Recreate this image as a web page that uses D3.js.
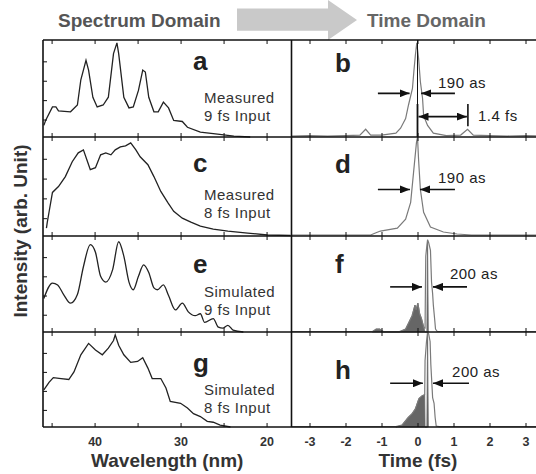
<!DOCTYPE html>
<html>
<head>
<meta charset="utf-8">
<script src="https://cdn.jsdelivr.net/npm/d3@7"></script>
<style>
  html, body { margin: 0; padding: 0; background: #fff; }
  svg { display: block; font-family: "Liberation Sans", Arial, sans-serif; }
</style>
</head>
<body>
<div id="chart"></div>
<script>
// Spectrum (wavelength nm, intensity) and time domain (fs, intensity) traces

const specA = [[45.9,0.12],[45.7,0.17],[44.9,0.31],[44.5,0.31],[44.2,0.27],[42.8,0.26],[42.0,0.33],[41.6,0.59],[41.0,0.79],[40.7,0.69],[40.2,0.41],[39.7,0.31],[39.0,0.33],[38.4,0.41],[37.8,0.86],[37.4,0.97],[37.2,0.86],[36.6,0.41],[36.0,0.30],[35.5,0.31],[34.9,0.48],[34.4,0.69],[34.1,0.67],[33.7,0.41],[33.1,0.26],[32.6,0.26],[32.0,0.36],[31.4,0.30],[30.8,0.17],[29.8,0.16],[29.2,0.10],[27.7,0.05],[25.7,0.03],[23.8,0.01],[21.9,0.0]];
const specC = [[45.6,0.08],[45.5,0.14],[45.3,0.24],[44.9,0.44],[44.2,0.50],[43.4,0.60],[42.6,0.75],[41.9,0.84],[41.3,0.87],[40.9,0.77],[40.5,0.67],[39.9,0.69],[39.3,0.82],[38.7,0.84],[38.1,0.82],[37.6,0.87],[37.0,0.90],[36.4,0.91],[35.8,0.94],[35.2,0.87],[34.7,0.80],[33.8,0.72],[33.1,0.60],[32.3,0.45],[31.5,0.34],[30.8,0.25],[29.8,0.18],[28.8,0.14],[27.7,0.10],[26.2,0.07],[24.5,0.05],[22.2,0.03],[19.9,0.01],[17.2,0.005]];
const specE = [[45.9,0.35],[44.9,0.51],[44.3,0.49],[43.6,0.39],[42.8,0.30],[42.0,0.39],[41.3,0.68],[40.5,0.91],[39.9,0.83],[39.3,0.58],[38.7,0.52],[37.9,0.65],[37.2,0.94],[36.6,0.79],[36.0,0.52],[35.5,0.44],[34.9,0.58],[34.3,0.70],[33.7,0.62],[33.1,0.46],[32.7,0.44],[32.0,0.49],[31.4,0.38],[30.6,0.23],[29.8,0.30],[29.1,0.21],[28.3,0.17],[27.7,0.19],[27.2,0.10],[26.2,0.14],[25.6,0.05],[25.1,0.04],[24.5,0.07],[23.9,0.02],[22.7,0.0]];
const specG = [[45.9,0.39],[45.3,0.47],[44.8,0.52],[43.9,0.51],[43.0,0.50],[42.4,0.58],[41.6,0.76],[40.7,0.88],[39.9,0.81],[39.1,0.76],[38.4,0.83],[37.8,0.91],[37.6,0.97],[37.2,0.86],[36.6,0.76],[35.8,0.68],[35.0,0.69],[34.4,0.73],[33.8,0.62],[33.3,0.51],[32.3,0.51],[31.7,0.41],[31.2,0.27],[30.0,0.25],[29.2,0.20],[28.5,0.14],[27.7,0.11],[26.9,0.06],[26.2,0.05],[25.4,0.02],[24.2,0.0]];

const pulseB = [[-3.5,0.01],[-3.0,0.015],[-2.5,0.01],[-2.0,0.015],[-1.6,0.02],[-1.44,0.08],[-1.3,0.02],[-1.0,0.02],[-0.6,0.04],[-0.47,0.09],[-0.33,0.19],[-0.25,0.33],[-0.14,0.5],[-0.1,0.68],[-0.06,0.84],[-0.02,0.97],[0.03,0.81],[0.08,0.57],[0.14,0.40],[0.17,0.22],[0.28,0.12],[0.44,0.04],[0.8,0.015],[1.2,0.02],[1.39,0.08],[1.55,0.02],[2.0,0.015],[2.5,0.01],[3.0,0.015],[3.5,0.01]];
const pulseD = [[-3.5,0.01],[-1.3,0.01],[-1.17,0.03],[-1.03,0.05],[-0.56,0.08],[-0.33,0.17],[-0.19,0.34],[-0.11,0.64],[-0.03,0.94],[0.0,1.0],[0.03,0.77],[0.08,0.47],[0.17,0.24],[0.36,0.09],[0.72,0.04],[1.1,0.02],[1.5,0.01],[3.5,0.01]];
const pulseF = [[-3.5,0.005],[-1.25,0.005],[-1.15,0.03],[-1.05,0.03],[-0.95,0.005],[-0.5,0.005],[-0.33,0.03],[-0.24,0.1],[-0.15,0.17],[-0.07,0.28],[-0.04,0.23],[0.01,0.3],[0.06,0.19],[0.11,0.14],[0.18,0.04],[0.21,0.04],[0.22,0.45],[0.23,0.79],[0.26,0.9],[0.28,0.96],[0.31,0.93],[0.36,0.85],[0.39,0.52],[0.42,0.4],[0.44,0.28],[0.48,0.12],[0.5,0.03],[0.55,0.005],[3.5,0.005]];
const shadeF = [[-1.25,0],[-1.15,0.03],[-1.05,0.03],[-0.95,0],[-0.5,0],[-0.33,0.03],[-0.24,0.1],[-0.15,0.17],[-0.07,0.28],[-0.04,0.23],[0.01,0.3],[0.06,0.19],[0.11,0.14],[0.18,0.04],[0.21,0],[0.26,0],[0.28,0.96],[0.3,0]];
const pulseH = [[-3.5,0.005],[-0.6,0.005],[-0.43,0.02],[-0.26,0.1],[-0.15,0.14],[-0.06,0.19],[0.04,0.3],[0.13,0.33],[0.2,0.34],[0.21,0.7],[0.25,0.9],[0.28,1.0],[0.31,0.98],[0.35,0.9],[0.37,0.66],[0.4,0.45],[0.42,0.31],[0.46,0.25],[0.49,0.1],[0.52,0.01],[0.6,0.005],[3.5,0.005]];
const shadeH = [[-0.6,0],[-0.43,0.02],[-0.26,0.1],[-0.15,0.14],[-0.06,0.19],[0.04,0.3],[0.13,0.33],[0.2,0.34],[0.21,0],[0.26,0],[0.28,0.98],[0.3,0]];

const specTicks = [45, 40, 35, 30, 25, 20];
const specLabels = [40, 30, 20];
const timeTicks = [-3, -2, -1, 0, 1, 2, 3];
const intensityTicks = [0.18, 0.38, 0.58, 0.78];

const panelLetters = ["a", "c", "e", "g"];
const pulseLetters = ["b", "d", "f", "h"];
const specNotes = [["Measured", "9 fs Input"], ["Measured", "8 fs Input"], ["Simulated", "9 fs Input"], ["Simulated", "8 fs Input"]];

// FWHM arrows: [intensity level, left arrow start, left tip, right arrow start, right tip, label t, label intensity, text]
const fwhmMarks = [
    [0.45, -1.1, -0.22, 1.04, 0.10, 0.57, 0.51, "190 as"],
    [0.47, -1.1, -0.21, 1.04, 0.07, 0.57, 0.54, "190 as"],
    [0.47, -0.76, 0.125, 1.375, 0.43, 0.90, 0.55, "200 as"],
    [0.46, -0.76, 0.15, 1.43, 0.43, 0.96, 0.53, "200 as"]
];

// ─────────────────────────────────────────────
// Layout
// ─────────────────────────────────────────────
const W = 536, H = 474;
const xLeft = 43, xMid = 291.5, xRight = 543.5;
const rowEdges = [40, 137, 236, 332, 427];

const svg = d3.select("#chart").append("svg")
    .attr("width", W)
    .attr("height", H);

const defs = svg.append("defs");
defs.append("marker")
    .attr("id", "head")
    .attr("markerUnits", "userSpaceOnUse")
    .attr("viewBox", "0 0 10 8")
    .attr("refX", 10).attr("refY", 4)
    .attr("markerWidth", 10).attr("markerHeight", 8)
    .attr("orient", "auto-start-reverse")
    .append("path")
    .attr("d", "M0,0L10,4L0,8Z")
    .attr("fill", "#111");

const xSpec = d3.scaleLinear().domain([46, 17.1]).range([xLeft, xMid]);
const xTime = d3.scaleLinear().domain([-3.5, 3.5]).range([xMid, xRight]);
const yRow = i => d3.scaleLinear().domain([0, 1]).range([rowEdges[i + 1], rowEdges[i]]);

const specSeries = [specA, specC, specE, specG];
const pulseSeries = [pulseB, pulseD, pulseF, pulseH];
const shadeSeries = [null, null, shadeF, shadeH];

// Header: "Spectrum Domain" → "Time Domain"
svg.append("path")
    .attr("d", "M237,8.5H328V0L357,20L328,40V30.8H237Z")
    .attr("fill", "#c9c9c9");
svg.append("text").attr("x", 58).attr("y", 27)
    .attr("font-size", 19).attr("font-weight", "bold").attr("fill", "#555")
    .text("Spectrum Domain");
svg.append("text").attr("x", 367).attr("y", 27)
    .attr("font-size", 19).attr("font-weight", "bold").attr("fill", "#666")
    .text("Time Domain");

const plots = svg.append("g");

for (let i = 0; i < 4; i++) {
    const y = yRow(i);
    const top = rowEdges[i], bottom = rowEdges[i + 1];

    // spectrum trace
    plots.append("path")
        .datum(specSeries[i])
        .attr("fill", "none")
        .attr("stroke", "#222")
        .attr("stroke-width", 1.3)
        .attr("d", d3.line()
            .x(d => xSpec(d[0]))
            .y(d => y(d[1]))
            .curve(i === 2 ? d3.curveMonotoneX : d3.curveLinear));

    // time trace (shaded part first)
    if (shadeSeries[i]) {
        plots.append("path")
            .datum(shadeSeries[i])
            .attr("fill", "#666")
            .attr("stroke", "#666")
            .attr("stroke-width", 0.8)
            .attr("d", d3.area()
                .x(d => xTime(d[0]))
                .y0(y(0))
                .y1(d => y(d[1])));
    }
    plots.append("path")
        .datum(pulseSeries[i])
        .attr("fill", "none")
        .attr("stroke", "#7a7a7a")
        .attr("stroke-width", 1.2)
        .attr("d", d3.line()
            .x(d => xTime(d[0]))
            .y(d => y(d[1])));

    // ticks: top (down) and bottom (up)
    [[d3.axisBottom, top], [d3.axisTop, bottom]].forEach(([ax, yy]) => {
        svg.append("g")
            .attr("transform", `translate(0,${yy})`)
            .call(ax(xSpec).tickValues(specTicks).tickSize(4).tickFormat(""))
            .call(g => g.select(".domain").remove())
            .call(g => g.selectAll("line").attr("stroke", "#111"));
        svg.append("g")
            .attr("transform", `translate(0,${yy})`)
            .call(ax(xTime).tickValues(timeTicks).tickSize(4).tickFormat(""))
            .call(g => g.select(".domain").remove())
            .call(g => g.selectAll("line").attr("stroke", "#111"));
    });

    // intensity ticks on left frame
    svg.append("g")
        .attr("transform", `translate(${xLeft},0)`)
        .call(d3.axisRight(y).tickValues(intensityTicks).tickSize(4).tickFormat(""))
        .call(g => g.select(".domain").remove())
        .call(g => g.selectAll("line").attr("stroke", "#111"));

    // panel letters and notes
    svg.append("text")
        .attr("x", 193).attr("y", [70, 172, 273, 372][i])
        .attr("font-size", 26).attr("font-weight", "bold").attr("fill", "#222")
        .text(panelLetters[i]);
    svg.append("text")
        .attr("x", 335).attr("y", [72, 173, 273, 379][i])
        .attr("font-size", 26).attr("font-weight", "bold").attr("fill", "#222")
        .text(pulseLetters[i]);

    const noteY = [103, 200, 297, 395][i];
    specNotes[i].forEach((t, k) => {
        svg.append("text")
            .attr("x", 204).attr("y", noteY + k * 17.5)
            .attr("font-size", 15).attr("letter-spacing", 0.5).attr("fill", "#333")
            .text(t);
    });

    // FWHM arrows
    const [lv, l0, l1, r0, r1, tx, ty, txt] = fwhmMarks[i];
    [[l0, l1], [r0, r1]].forEach(([a, b]) => {
        svg.append("line")
            .attr("x1", xTime(a)).attr("x2", xTime(b))
            .attr("y1", y(lv)).attr("y2", y(lv))
            .attr("stroke", "#111").attr("stroke-width", 1.6)
            .attr("marker-end", "url(#head)");
    });
    svg.append("text")
        .attr("x", xTime(tx)).attr("y", y(ty))
        .attr("font-size", 15).attr("letter-spacing", 0.5).attr("fill", "#222")
        .text(txt);
}

// Panel b: time-zero line and 1.4 fs spacing
{
    const y = yRow(0);
    svg.append("line")
        .attr("x1", xTime(0)).attr("x2", xTime(0))
        .attr("y1", y(1)).attr("y2", y(0))
        .attr("stroke", "#111").attr("stroke-width", 1);
    svg.append("line")
        .attr("x1", xTime(0)).attr("x2", xTime(0))
        .attr("y1", y(0.34)).attr("y2", y(0))
        .attr("stroke", "#111").attr("stroke-width", 1.8);
    svg.append("line")
        .attr("x1", xTime(1.4)).attr("x2", xTime(1.4))
        .attr("y1", y(0.34)).attr("y2", y(0.11))
        .attr("stroke", "#111").attr("stroke-width", 1.6);
    svg.append("line")
        .attr("x1", xTime(0) + 1).attr("x2", xTime(1.4) - 1)
        .attr("y1", y(0.21)).attr("y2", y(0.21))
        .attr("stroke", "#111").attr("stroke-width", 1.6)
        .attr("marker-start", "url(#head)")
        .attr("marker-end", "url(#head)");
    svg.append("text")
        .attr("x", xTime(1.68)).attr("y", y(0.17))
        .attr("font-size", 15).attr("letter-spacing", 0.5).attr("fill", "#222")
        .text("1.4 fs");
}

// Frame lines
const frame = svg.append("g").attr("stroke", "#111").attr("stroke-width", 1.6);
rowEdges.forEach(yy => {
    frame.append("line").attr("x1", xLeft).attr("x2", W).attr("y1", yy).attr("y2", yy);
});
[xLeft, xMid].forEach(xx => {
    frame.append("line").attr("x1", xx).attr("x2", xx).attr("y1", rowEdges[0]).attr("y2", rowEdges[4]);
});

// Bottom axis labels
svg.append("g")
    .attr("transform", `translate(0,${rowEdges[4]})`)
    .call(d3.axisBottom(xSpec).tickValues(specLabels).tickSize(0).tickPadding(10).tickFormat(d => String(d)))
    .call(g => g.select(".domain").remove())
    .call(g => g.selectAll("text")
        .attr("font-family", "Liberation Sans, Arial, sans-serif")
        .attr("font-size", 12.5).attr("font-weight", "bold").attr("fill", "#333"));
svg.append("g")
    .attr("transform", `translate(0,${rowEdges[4]})`)
    .call(d3.axisBottom(xTime).tickValues(timeTicks).tickSize(0).tickPadding(10).tickFormat(d => String(d)))
    .call(g => g.select(".domain").remove())
    .call(g => g.selectAll("text")
        .attr("font-family", "Liberation Sans, Arial, sans-serif")
        .attr("font-size", 12.5).attr("font-weight", "bold").attr("fill", "#333"));

svg.append("text")
    .attr("x", (xLeft + xMid) / 2 + 0).attr("y", 467)
    .attr("text-anchor", "middle")
    .attr("font-size", 19).attr("font-weight", "bold").attr("fill", "#333")
    .text("Wavelength (nm)");
svg.append("text")
    .attr("x", 418).attr("y", 467)
    .attr("text-anchor", "middle")
    .attr("font-size", 19).attr("font-weight", "bold").attr("fill", "#333")
    .text("Time (fs)");
svg.append("text")
    .attr("transform", "translate(27,231) rotate(-90)")
    .attr("text-anchor", "middle")
    .attr("font-size", 19).attr("font-weight", "bold").attr("fill", "#333")
    .text("Intensity (arb. Unit)");
</script>
</body>
</html>
